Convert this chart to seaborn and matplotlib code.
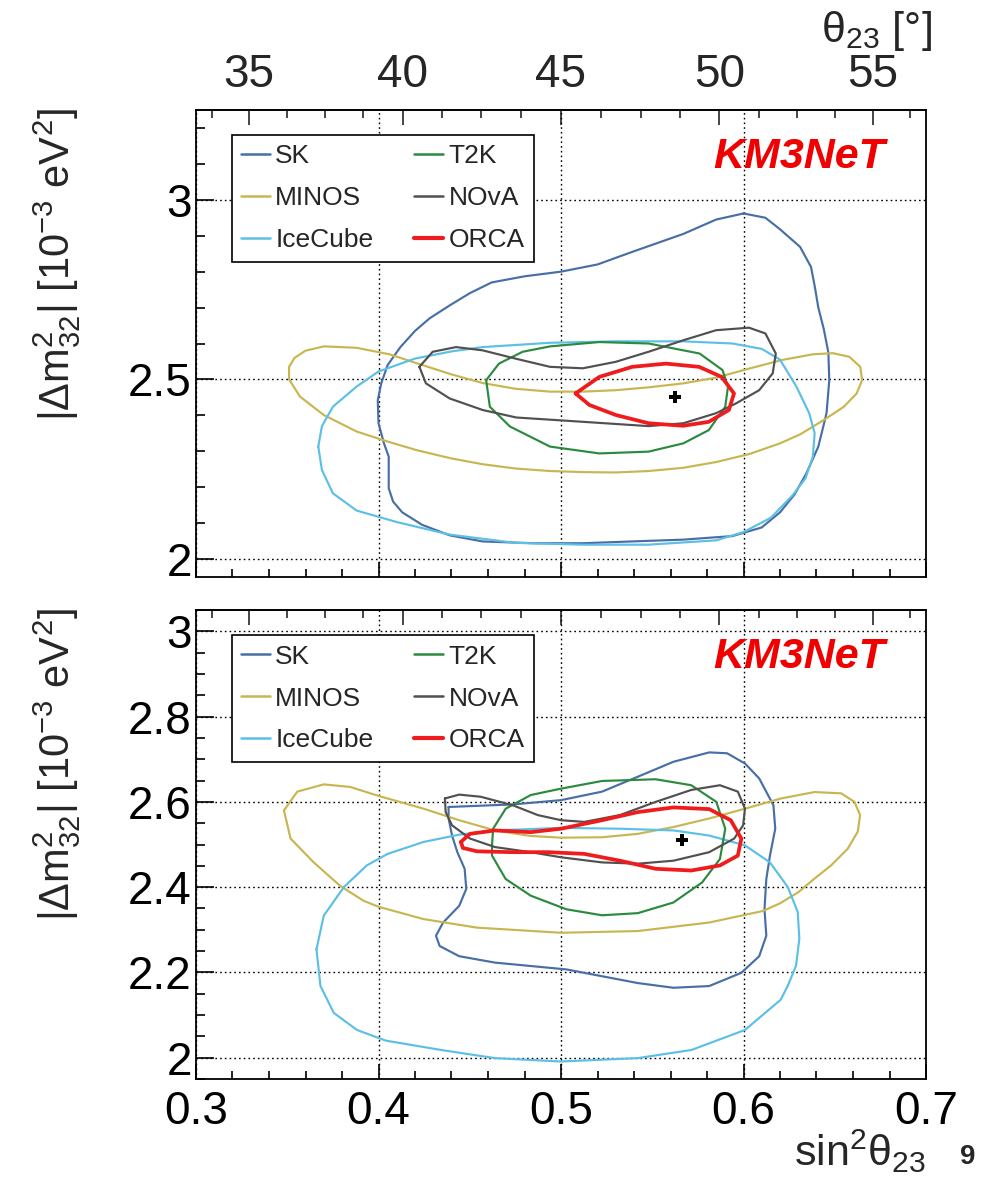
import numpy as np
import pandas as pd
import matplotlib
matplotlib.use("Agg")
import matplotlib.pyplot as plt
from matplotlib.lines import Line2D
from matplotlib.ticker import MultipleLocator, FixedLocator, NullFormatter, FuncFormatter
import seaborn as sns

sns.set_style("white")
plt.rcParams["font.family"] = ["Liberation Sans", "DejaVu Sans"]
plt.rcParams["mathtext.fontset"] = "custom"
plt.rcParams["mathtext.rm"] = "Liberation Sans"
plt.rcParams["mathtext.it"] = "Liberation Sans:italic"
plt.rcParams["mathtext.bf"] = "Liberation Sans:bold"
plt.rcParams["lines.solid_joinstyle"] = "round"
plt.rcParams["lines.solid_capstyle"] = "round"

# ---------------------------------------------------------------------------
# 90% CL contours in the (sin^2 theta23, |dm^2_32|) plane
# ---------------------------------------------------------------------------
experiments = ["SK", "MINOS", "IceCube", "T2K", "NOvA", "ORCA"]
colors = {"SK": "#476fa6", "MINOS": "#c8b650", "IceCube": "#5bbfe6",
          "T2K": "#2b8a3e", "NOvA": "#505050", "ORCA": "#ee1c1c"}

# upper panel
sk_top = [(0.600, 2.962), (0.612, 2.950), (0.620, 2.918), (0.631, 2.869), (0.637, 2.813),
          (0.639, 2.760), (0.641, 2.700), (0.644, 2.640), (0.6465, 2.575), (0.647, 2.498),
          (0.6455, 2.406), (0.641, 2.313), (0.6345, 2.239), (0.628, 2.180), (0.620, 2.130),
          (0.610, 2.088), (0.594, 2.064), (0.567, 2.054), (0.539, 2.049), (0.512, 2.044),
          (0.485, 2.044), (0.457, 2.049), (0.439, 2.066), (0.424, 2.095), (0.413, 2.130),
          (0.408, 2.160), (0.4056, 2.197), (0.4056, 2.285), (0.403, 2.322), (0.400, 2.378),
          (0.3996, 2.442), (0.4015, 2.489), (0.405, 2.540), (0.412, 2.590), (0.420, 2.635),
          (0.428, 2.670), (0.439, 2.706), (0.450, 2.740), (0.462, 2.770), (0.480, 2.787),
          (0.500, 2.800), (0.520, 2.820), (0.539, 2.855), (0.567, 2.905), (0.585, 2.945)]
minos_top = [(0.351, 2.535), (0.354, 2.560), (0.360, 2.580), (0.370, 2.592), (0.388, 2.588),
             (0.406, 2.570), (0.421, 2.545), (0.440, 2.514), (0.457, 2.490), (0.475, 2.474),
             (0.494, 2.466), (0.512, 2.466), (0.530, 2.470), (0.548, 2.478), (0.567, 2.489),
             (0.585, 2.505), (0.603, 2.530), (0.621, 2.554), (0.638, 2.570), (0.649, 2.573),
             (0.658, 2.563), (0.664, 2.535), (0.665, 2.498), (0.662, 2.461), (0.655, 2.424),
             (0.644, 2.387), (0.631, 2.347), (0.620, 2.322), (0.603, 2.292), (0.585, 2.270),
             (0.567, 2.254), (0.548, 2.245), (0.530, 2.241), (0.512, 2.242), (0.494, 2.245),
             (0.475, 2.252), (0.457, 2.264), (0.440, 2.280), (0.421, 2.303), (0.405, 2.327),
             (0.388, 2.355), (0.370, 2.401), (0.357, 2.452), (0.351, 2.500)]
icecube_top = [(0.367, 2.313), (0.369, 2.370), (0.375, 2.424), (0.388, 2.480), (0.400, 2.522),
               (0.420, 2.558), (0.440, 2.578), (0.457, 2.590), (0.494, 2.602), (0.530, 2.606),
               (0.567, 2.606), (0.594, 2.600), (0.610, 2.585), (0.620, 2.555), (0.629, 2.480),
               (0.636, 2.406), (0.639, 2.350), (0.638, 2.285), (0.634, 2.225), (0.627, 2.178),
               (0.615, 2.115), (0.600, 2.075), (0.585, 2.052), (0.548, 2.040), (0.512, 2.040),
               (0.475, 2.045), (0.439, 2.068), (0.410, 2.103), (0.388, 2.135), (0.375, 2.183),
               (0.369, 2.248)]
t2k_top = [(0.459, 2.498), (0.466, 2.544), (0.479, 2.577), (0.494, 2.592), (0.521, 2.604),
           (0.548, 2.600), (0.576, 2.572), (0.5885, 2.526), (0.5915, 2.480), (0.590, 2.424),
           (0.581, 2.359), (0.567, 2.322), (0.548, 2.299), (0.521, 2.294), (0.494, 2.313),
           (0.472, 2.369), (0.461, 2.424)]
nova_top = [(0.4224, 2.535), (0.4297, 2.577), (0.4425, 2.590), (0.457, 2.581), (0.475, 2.558),
            (0.494, 2.535), (0.512, 2.531), (0.530, 2.549), (0.548, 2.577), (0.567, 2.609),
            (0.585, 2.637), (0.603, 2.644), (0.612, 2.628), (0.6177, 2.572), (0.616, 2.517),
            (0.6086, 2.470), (0.5958, 2.433), (0.585, 2.406), (0.567, 2.378), (0.548, 2.370),
            (0.530, 2.376), (0.503, 2.385), (0.4755, 2.394), (0.457, 2.415), (0.439, 2.447),
            (0.426, 2.489)]
orca_top = [(0.508, 2.461), (0.521, 2.507), (0.539, 2.535), (0.5575, 2.544), (0.5757, 2.535),
            (0.588, 2.507), (0.5948, 2.461), (0.592, 2.415), (0.581, 2.382), (0.567, 2.371),
            (0.548, 2.378), (0.530, 2.401), (0.5155, 2.429)]
best_top = (0.5626, 2.452)

# lower panel
sk_bot = [(0.4384, 2.588), (0.456, 2.591), (0.4736, 2.594), (0.500, 2.604), (0.5225, 2.624),
          (0.5421, 2.659), (0.5616, 2.694), (0.5812, 2.716), (0.591, 2.714), (0.6008, 2.690),
          (0.6086, 2.655), (0.6164, 2.592), (0.6174, 2.537), (0.6145, 2.474), (0.6125, 2.419),
          (0.6115, 2.348), (0.6125, 2.286), (0.6086, 2.238), (0.5988, 2.199), (0.5812, 2.168),
          (0.5616, 2.164), (0.5421, 2.175), (0.5225, 2.191), (0.503, 2.207), (0.4834, 2.215),
          (0.4638, 2.223), (0.4442, 2.238), (0.4335, 2.262), (0.4315, 2.286), (0.4354, 2.317),
          (0.4442, 2.356), (0.4481, 2.396), (0.4472, 2.443), (0.4432, 2.482), (0.4403, 2.521),
          (0.4384, 2.561)]
minos_bot = [(0.3482, 2.580), (0.3555, 2.624), (0.370, 2.641), (0.3845, 2.635), (0.400, 2.614),
             (0.4247, 2.584), (0.4442, 2.557), (0.4638, 2.533), (0.4834, 2.520), (0.500, 2.516),
             (0.5225, 2.517), (0.5421, 2.525), (0.5616, 2.541), (0.5812, 2.561), (0.6008, 2.584),
             (0.6206, 2.608), (0.6389, 2.623), (0.6535, 2.620), (0.6608, 2.600), (0.6639, 2.569),
             (0.6626, 2.530), (0.6571, 2.490), (0.648, 2.451), (0.6389, 2.420), (0.630, 2.388),
             (0.620, 2.362), (0.6106, 2.344), (0.5812, 2.317), (0.5421, 2.297), (0.500, 2.293),
             (0.454, 2.305), (0.4247, 2.325), (0.400, 2.354), (0.3918, 2.368), (0.379, 2.403),
             (0.3645, 2.458), (0.3518, 2.514)]
icecube_bot = [(0.366, 2.254), (0.370, 2.333), (0.381, 2.400), (0.3936, 2.451), (0.405, 2.478),
               (0.4247, 2.506), (0.4442, 2.523), (0.4638, 2.533), (0.500, 2.539), (0.5323, 2.537),
               (0.5616, 2.533), (0.5812, 2.521), (0.6008, 2.498), (0.6145, 2.458), (0.6243, 2.400),
               (0.6297, 2.342), (0.6306, 2.279), (0.6288, 2.216), (0.6243, 2.169), (0.6204, 2.136),
               (0.6008, 2.065), (0.5714, 2.018), (0.5421, 1.999), (0.500, 1.991), (0.4638, 1.999),
               (0.4344, 2.018), (0.404, 2.040), (0.3882, 2.065), (0.3755, 2.105), (0.3682, 2.168)]
t2k_bot = [(0.4622, 2.498), (0.4628, 2.537), (0.4697, 2.584), (0.4834, 2.616), (0.500, 2.631),
           (0.5225, 2.649), (0.5519, 2.653), (0.5714, 2.639), (0.5851, 2.600), (0.590, 2.537),
           (0.5871, 2.466), (0.5773, 2.411), (0.5616, 2.364), (0.5421, 2.339), (0.5225, 2.334),
           (0.503, 2.348), (0.4834, 2.380), (0.4697, 2.419), (0.4622, 2.474)]
nova_bot = [(0.4364, 2.608), (0.4442, 2.617), (0.456, 2.612), (0.4736, 2.592), (0.4873, 2.569),
            (0.500, 2.557), (0.5127, 2.553), (0.5323, 2.569), (0.5519, 2.600), (0.5714, 2.628),
            (0.5871, 2.639), (0.5969, 2.624), (0.6008, 2.584), (0.5998, 2.545), (0.5949, 2.514),
            (0.5812, 2.482), (0.5616, 2.462), (0.5421, 2.455), (0.5225, 2.458), (0.500, 2.470),
            (0.4834, 2.482), (0.4638, 2.494), (0.4501, 2.514), (0.4403, 2.545), (0.4368, 2.576)]
orca_bot = [(0.4452, 2.506), (0.4501, 2.525), (0.4638, 2.533), (0.4834, 2.529), (0.500, 2.537),
            (0.5225, 2.557), (0.5421, 2.576), (0.5616, 2.587), (0.5812, 2.583), (0.593, 2.557),
            (0.5988, 2.514), (0.5969, 2.474), (0.5871, 2.451), (0.5714, 2.439), (0.5519, 2.443),
            (0.5323, 2.462), (0.5127, 2.478), (0.4932, 2.482), (0.4736, 2.482), (0.454, 2.484),
            (0.4462, 2.492)]
best_bot = (0.5665, 2.510)

panels = [
    {"SK": sk_top, "MINOS": minos_top, "IceCube": icecube_top,
     "T2K": t2k_top, "NOvA": nova_top, "ORCA": orca_top, "best": best_top},
    {"SK": sk_bot, "MINOS": minos_bot, "IceCube": icecube_bot,
     "T2K": t2k_bot, "NOvA": nova_bot, "ORCA": orca_bot, "best": best_bot},
]

x_major = [0.3, 0.4, 0.5, 0.6, 0.7]
theta_major = [35, 40, 45, 50, 55]
theta_minor = [t for t in np.arange(33.75, 57.0, 1.25) if t not in theta_major]

# ---------------------------------------------------------------------------
W, H = 984, 1186
fig = plt.figure(figsize=(W / 100, H / 100), dpi=100)


def rect(l, t, r, b):
    return [l / W, 1 - b / H, (r - l) / W, (b - t) / H]


ax_top = fig.add_axes(rect(196, 110, 926, 577))
ax_bot = fig.add_axes(rect(196, 610, 926, 1079))

ylims = [(1.95, 3.25), (1.95, 3.05)]
ymaj = [0.5, 0.2]
ymin = [0.1, 0.05]
ylabel = "|Δ$\\mathrm{m}^{2}_{32}$| [10$^{-3}$ eV$^{2}$]"
TICK_FS = 33


def to_deg(s):
    return np.degrees(np.arcsin(np.sqrt(np.clip(s, 0, 1))))


def to_sin2(t):
    return np.sin(np.radians(t)) ** 2


plain = FuncFormatter(lambda v, p: f"{v:g}")

for i, (ax, pdata) in enumerate(zip([ax_top, ax_bot], panels)):
    for name in experiments:
        pts = pdata[name] + [pdata[name][0]]
        df = pd.DataFrame(pts, columns=["s2", "dm2"])
        sns.lineplot(data=df, x="s2", y="dm2", sort=False, estimator=None,
                     color=colors[name], linewidth=2.7 if name == "ORCA" else 1.55,
                     ax=ax, legend=False, zorder=3)
    bx, by = pdata["best"]
    sns.scatterplot(x=[bx], y=[by], marker="P", s=75, color="black",
                    edgecolor="none", ax=ax, zorder=4, legend=False)

    ax.set_xlim(0.3, 0.7)
    ax.set_ylim(*ylims[i])
    ax.xaxis.set_major_locator(FixedLocator(x_major))
    ax.xaxis.set_minor_locator(MultipleLocator(0.02))
    ax.yaxis.set_major_locator(MultipleLocator(ymaj[i]))
    ax.yaxis.set_minor_locator(MultipleLocator(ymin[i]))
    ax.yaxis.set_major_formatter(plain)
    ax.xaxis.set_major_formatter(plain)
    ax.tick_params(axis="both", which="both", direction="in", left=True, bottom=True,
                   top=False, right=False, width=1.2, colors="black", labelsize=TICK_FS)
    ax.tick_params(axis="y", which="major", length=13, pad=3)
    ax.tick_params(axis="y", which="minor", length=6.5)
    ax.tick_params(axis="x", which="major", length=11, pad=8)
    ax.tick_params(axis="x", which="minor", length=6)
    ax.grid(True, which="major", color="black", linestyle=(0, (1.2, 2.2)), linewidth=1.0)
    ax.set_axisbelow(True)
    for sp in ax.spines.values():
        sp.set_visible(True)
        sp.set_color("black")
        sp.set_linewidth(1.3)
    ax.set_xlabel("")
    ax.set_ylabel(ylabel, loc="top", fontsize=30)
    ax.yaxis.set_label_coords(-0.155, 1.004)

    sec = ax.secondary_xaxis("top", functions=(to_deg, to_sin2))
    sec.xaxis.set_major_locator(FixedLocator(theta_major))
    sec.xaxis.set_minor_locator(FixedLocator(theta_minor))
    sec.tick_params(axis="x", which="both", direction="in", width=1.2, labelsize=TICK_FS)
    sec.tick_params(axis="x", which="major", length=11, pad=9)
    sec.tick_params(axis="x", which="minor", length=6)
    sec.spines["top"].set_linewidth(1.3)
    if i == 1:
        sec.xaxis.set_major_formatter(NullFormatter())

    handles = [Line2D([], [], color=colors[n], linewidth=3.0 if n == "ORCA" else 1.8)
               for n in experiments]
    leg = ax.legend(handles, experiments, ncol=2, loc="upper left",
                    bbox_to_anchor=(0.049, 0.946), borderaxespad=0, frameon=True,
                    fancybox=False, edgecolor="black", fontsize=19, handlelength=1.1,
                    handletextpad=0.2, columnspacing=1.55, labelspacing=0.68,
                    borderpad=0.35)
    leg.get_frame().set_linewidth(1.2)
    leg.get_frame().set_alpha(1.0)

    ax.text(0.944, 0.90, "KM3NeT", transform=ax.transAxes, ha="right", va="center",
            color="#f00000", fontsize=31, fontweight="bold", fontstyle="italic", zorder=5)

ax_top.tick_params(axis="x", which="major", labelbottom=False)
ax_bot.set_xlabel("sin$^{2}$θ$_{23}$", loc="right", fontsize=31)
ax_bot.xaxis.set_label_coords(1.0, -0.105)

fig.text(932 / W, 1 - 42 / H, "θ$_{23}$ [°]", ha="right", va="baseline", fontsize=31)
fig.text(968 / W, 1 - 1157 / H, "9", ha="center", va="center", fontsize=20,
         fontweight="bold")

fig.savefig("out.png", dpi=100)
